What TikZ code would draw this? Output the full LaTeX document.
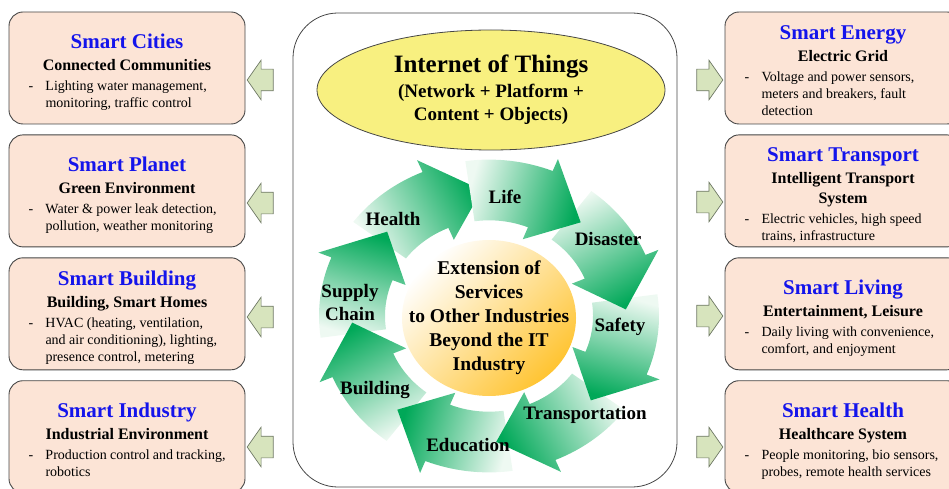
\documentclass[tikz,border=0pt]{standalone}
\usepackage{fontspec}
\setmainfont{Liberation Serif}
\usetikzlibrary{positioning, shapes.geometric, shapes.arrows}

\definecolor{boxfill}{RGB}{252,228,214}
\definecolor{boxline}{RGB}{70,70,70}
\definecolor{titleblue}{RGB}{20,20,235}
\definecolor{arrowfill}{RGB}{215,228,189}
\definecolor{arrowline}{RGB}{110,120,100}
\definecolor{iotyellow}{RGB}{248,240,128}
\definecolor{ringgreen}{RGB}{0,168,88}
\definecolor{ringlight}{RGB}{238,249,242}
\definecolor{coregold}{RGB}{255,196,50}

\newcommand{\boxtitle}[1]{{\fontsize{21}{21}\selectfont\color{titleblue}\rule{0pt}{25pt}#1}}
\newcommand{\boxlist}[1]{{\fontsize{14}{17}\selectfont\mdseries
  \begin{tabular}[t]{@{}p{8pt}@{\hspace{9pt}}p{180pt}@{}}-&#1\end{tabular}}}

\begin{document}
\begin{tikzpicture}[x=1pt, y=1pt, node distance=10pt,
    smartbox/.style={draw=boxline, fill=boxfill, line width=0.9pt, rounded corners=14pt,
      minimum width=236pt, minimum height=112pt, inner sep=0pt, align=center,
      font=\fontsize{16}{20}\selectfont\bfseries},
    sidearrow/.style={single arrow, draw=arrowline, fill=arrowfill, line width=0.7pt,
      text height=10.5pt, text depth=10.5pt, text width=0pt, minimum height=26pt,
      single arrow head extend=9pt, single arrow tip angle=110, inner sep=0pt},
    ringlabel/.style={align=center, font=\fontsize{19}{23}\selectfont\bfseries}]
  \useasboundingbox (0,0) rectangle (949,488);

  % centre frame and IoT ellipse
  \node[draw=boxline, line width=0.8pt, rounded corners=45pt, minimum width=384pt,
    minimum height=474pt] (frame) at (485,238) {};
  \node[ellipse, draw=boxline, line width=0.8pt, fill=iotyellow, minimum width=348pt,
    minimum height=120pt, inner sep=0pt, align=center,
    font=\fontsize{19}{23}\selectfont\bfseries] (iot) at (491,398)
    {{\fontsize{25}{26}\selectfont Internet of Things}\\[2pt] (Network + Platform +\\ Content + Objects)};

  % ring of arrows
  \begin{scope}[shift={(489,172)}, yscale=0.92]
    \foreach \a [evaluate=\a as \sa using \a-180] in {119,164,-151,-106,-61,-16,29,74}
      \path[top color=ringgreen, bottom color=ringlight, shading angle=\sa]
        ({\a+24}:104) arc[start angle=\a+24, end angle=\a-6, radius=104]
        -- ({\a-6}:90) -- ({\a-26}:137) -- ({\a-6}:184) -- ({\a-6}:170)
        arc[start angle=\a-6, end angle=\a+24, radius=170] -- cycle;
  \end{scope}
  \node[ellipse, minimum width=174pt, minimum height=156pt, inner sep=0pt,
    top color=white, bottom color=coregold, shading angle=45] (core) at (489,170) {};
  \node[align=center, font=\fontsize{19.5}{24}\selectfont\bfseries] (coretext) at (core)
    {Extension of\\ Services\\ to Other Industries\\ Beyond the IT\\ Industry};

  \node[ringlabel] (life)      at (505,291) {Life};
  \node[ringlabel] (disaster)  at (608,249) {Disaster};
  \node[ringlabel] (safety)    at (620,161) {Safety};
  \node[ringlabel] (transport) at (585,73)  {Transportation};
  \node[ringlabel] (education) at (468,43)  {Education};
  \node[ringlabel] (building)  at (375,98)  {Building};
  \node[ringlabel] (supply)    at (350,186) {Supply\\ Chain};
  \node[ringlabel] (health)    at (393,269) {Health};

  % left column
  \node[smartbox] (cities) at (127,420)
    {\boxtitle{Smart Cities}\\[2pt] Connected Communities\\
     \boxlist{Lighting water management,\\ & monitoring, traffic control}};
  \node[smartbox, below=of cities] (planet)
    {\boxtitle{Smart Planet}\\[2pt] Green Environment\\
     \boxlist{Water \& power leak detection,\\ & pollution, weather monitoring}};
  \node[smartbox, below=of planet] (smbuilding)
    {\boxtitle{Smart Building}\\[2pt] Building, Smart Homes\\
     \boxlist{HVAC (heating, ventilation,\\ & and air conditioning), lighting,\\ & presence control, metering}};
  \node[smartbox, below=of smbuilding] (industry)
    {\boxtitle{Smart Industry}\\[2pt] Industrial Environment\\
     \boxlist{Production control and tracking,\\ & robotics}};

  % right column
  \node[smartbox] (energy) at (843,420)
    {\boxtitle{Smart Energy}\\[2pt] Electric Grid\\
     \boxlist{Voltage and power sensors,\\ & meters and breakers, fault\\ & detection}};
  \node[smartbox, below=of energy] (smtransport)
    {\boxtitle{Smart Transport}\\[2pt] Intelligent Transport\\ System\\
     \boxlist{Electric vehicles, high speed\\ & trains, infrastructure}};
  \node[smartbox, below=of smtransport] (living)
    {\boxtitle{Smart Living}\\[2pt] Entertainment, Leisure\\
     \boxlist{Daily living with convenience,\\ & comfort, and enjoyment}};
  \node[smartbox, below=of living] (smhealth)
    {\boxtitle{Smart Health}\\[2pt] Healthcare System\\
     \boxlist{People monitoring, bio sensors,\\ & probes, remote health services}};

  % block arrows
  \node[sidearrow, shape border rotate=180] (toCities)   at (264,408) {};
  \node[sidearrow, shape border rotate=180] (toPlanet)   at (264,285) {};
  \node[sidearrow, shape border rotate=180] (toBuilding) at (264,171) {};
  \node[sidearrow, shape border rotate=180] (toIndustry) at (264,41)  {};
  \node[sidearrow] (toEnergy)    at (706,408) {};
  \node[sidearrow] (toTransport) at (706,286) {};
  \node[sidearrow] (toLiving)    at (706,172) {};
  \node[sidearrow] (toHealth)    at (706,41)  {};
\end{tikzpicture}
\end{document}
